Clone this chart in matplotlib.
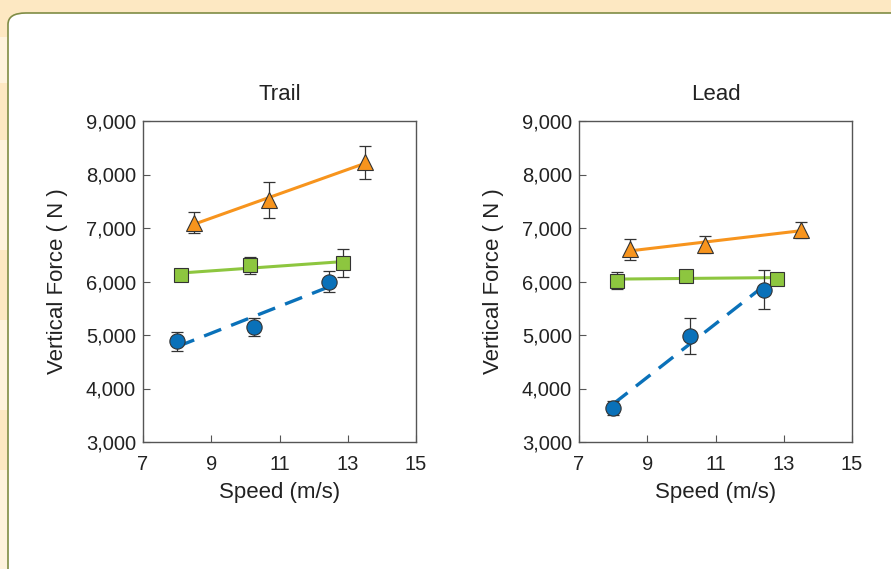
import numpy as np
import matplotlib.pyplot as plt
from matplotlib.patches import FancyBboxPatch, Rectangle

plt.rcParams['font.family'] = ['Liberation Sans', 'DejaVu Sans']

# Trail panel data
trail_speed_tri = [8.5, 10.7, 13.5]
trail_force_tri = [7100, 7520, 8230]
trail_err_tri = [200, 340, 310]

trail_speed_sq = [8.1, 10.15, 12.85]
trail_force_sq = [6130, 6300, 6350]
trail_err_sq = [40, 160, 260]

trail_speed_circ = [8.0, 10.26, 12.44]
trail_force_circ = [4880, 5150, 6000]
trail_err_circ = [170, 170, 195]

# Lead panel data
lead_speed_tri = [8.5, 10.7, 13.5]
lead_force_tri = [6600, 6690, 6970]
lead_err_tri = [200, 160, 150]

lead_speed_sq = [8.1, 10.14, 12.81]
lead_force_sq = [6015, 6110, 6050]
lead_err_sq = [160, 80, 60]

lead_speed_circ = [8.0, 10.26, 12.43]
lead_force_circ = [3640, 4980, 5850]
lead_err_circ = [130, 330, 370]

orange = '#f7941d'
green = '#8dc63f'
blue = '#0a71b9'

fig = plt.figure(figsize=(8.91, 5.69), dpi=100)
fig.patch.set_facecolor('#fde8c2')

# light stripes on the left margin
for y0, y1 in [(37, 83), (140, 250), (320, 410), (470, 569)]:
    fig.patches.append(Rectangle((0, 1 - y1 / 569), 8 / 891, (y1 - y0) / 569,
                                 transform=fig.transFigure, facecolor='#fef3dd',
                                 edgecolor='none', zorder=0))
panel = FancyBboxPatch((8 / 891, -0.1), 1.2, 1 - 13 / 569 + 0.1,
                       boxstyle='round,pad=0,rounding_size=0.02',
                       transform=fig.transFigure, facecolor='white',
                       edgecolor='#7f8c45', linewidth=1.2, zorder=1)
fig.patches.append(panel)


def draw_panel(ax, title, series):
    for sx, sy, se, color, marker, ms, ls in series:
        sx = np.array(sx)
        p = np.polyfit(sx, sy, 1)
        xl = np.array([sx.min(), sx.max()])
        if ls == '--':
            ax.plot(xl, np.polyval(p, xl), color=color, lw=2.4,
                    dashes=(5.5, 3.2), zorder=2)
        else:
            ax.plot(xl, np.polyval(p, xl), color=color, lw=2.2, zorder=2)
        ax.errorbar(sx, sy, yerr=se, fmt='none', ecolor='#333333',
                    elinewidth=0.9, capsize=4, capthick=0.9, zorder=3)
        ax.plot(sx, sy, linestyle='none', marker=marker, ms=ms,
                markerfacecolor=color, markeredgecolor='#333333',
                markeredgewidth=0.8, zorder=4)
    ax.set_xlim(7, 15)
    ax.set_ylim(3000, 9000)
    ax.set_xticks([7, 9, 11, 13, 15])
    ax.set_yticks([3000, 4000, 5000, 6000, 7000, 8000, 9000])
    ax.set_yticklabels(['3,000', '4,000', '5,000', '6,000', '7,000', '8,000', '9,000'])
    ax.tick_params(direction='in', length=5, width=0.8, color='#555555',
                   labelsize=14.5, labelcolor='#222222')
    ax.tick_params(axis='x', pad=9)
    ax.tick_params(axis='y', pad=5)
    for s in ax.spines.values():
        s.set_color('#555555')
        s.set_linewidth(1.0)
    ax.set_title(title, fontsize=16, color='#222222', pad=15)
    ax.set_xlabel('Speed (m/s)', fontsize=16, color='#222222', labelpad=6)
    ax.set_ylabel('Vertical Force ( N )', fontsize=16, color='#222222', labelpad=13)


ax1 = fig.add_axes([143 / 891, 1 - 442 / 569, 273 / 891, 321 / 569], zorder=5)
ax2 = fig.add_axes([579 / 891, 1 - 442 / 569, 273 / 891, 321 / 569], zorder=5)

draw_panel(ax1, 'Trail', [
    (trail_speed_tri, trail_force_tri, trail_err_tri, orange, '^', 11.5, '-'),
    (trail_speed_sq, trail_force_sq, trail_err_sq, green, 's', 10.5, '-'),
    (trail_speed_circ, trail_force_circ, trail_err_circ, blue, 'o', 11, '--'),
])
draw_panel(ax2, 'Lead', [
    (lead_speed_tri, lead_force_tri, lead_err_tri, orange, '^', 11.5, '-'),
    (lead_speed_sq, lead_force_sq, lead_err_sq, green, 's', 10.5, '-'),
    (lead_speed_circ, lead_force_circ, lead_err_circ, blue, 'o', 11, '--'),
])

fig.savefig('out.png', dpi=100, facecolor=fig.get_facecolor())
